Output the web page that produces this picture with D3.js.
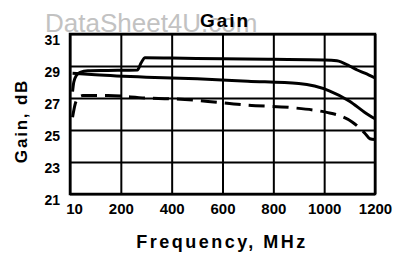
<!DOCTYPE html>
<html>
<head>
<meta charset="utf-8">
<script src="https://cdn.jsdelivr.net/npm/d3@7"></script>
<style>
  body { margin: 0; background: #fff; }
  svg { display: block; font-family: "Liberation Sans", Arial, sans-serif; }
</style>
</head>
<body>
<svg class="chart" width="393" height="255"></svg>
<script>
// ticks
const freqTicks = [0, 200, 400, 600, 800, 1000, 1200]
const freqLabels = ["10", "200", "400", "600", "800", "1000", "1200"]
const gainTicks = [21, 23, 25, 27, 29, 31]

// upper curve (with the step near 280 MHz)
const upperFreq = [10, 15, 25, 40, 70, 150, 265, 280, 295, 400, 600, 800, 1000, 1050, 1100, 1130, 1160, 1200]
const upperGain = [27.4, 28.0, 28.4, 28.6, 28.7, 28.72, 28.75, 29.2, 29.52, 29.5, 29.45, 29.42, 29.38, 29.33, 29.0, 28.75, 28.55, 28.25]

// middle curve
const midFreq = [10, 100, 300, 500, 700, 900, 1020, 1100, 1160, 1200]
const midGain = [28.55, 28.45, 28.3, 28.2, 28.05, 27.9, 27.45, 26.8, 26.1, 25.7]

// dashed curve
const dashFreq = [10, 20, 30, 50, 150, 300, 400, 500, 700, 870, 1010, 1060, 1110, 1160, 1180, 1200]
const dashGain = [25.8, 26.6, 27.0, 27.15, 27.15, 27.0, 26.95, 26.85, 26.55, 26.4, 26.1, 25.9, 25.5, 24.8, 24.45, 24.4]

const margin = {top: 34, right: 18, bottom: 61, left: 70}
const width = 393 - margin.left - margin.right
const height = 255 - margin.top - margin.bottom

const svg = d3.select('.chart')

// watermark
svg.append('text')
  .attr('x', 45).attr('y', 32)
  .attr('font-size', 26)
  .attr('fill', '#c2c2c2')
  .text('DataSheet4U.com')

svg.append('text')
  .attr('x', 225).attr('y', 27)
  .attr('text-anchor', 'middle')
  .attr('font-size', 19).attr('font-weight', 'bold')
  .attr('letter-spacing', 2)
  .text('Gain')

const g = svg.append('g').attr('transform', `translate(${margin.left},${margin.top})`)

const x = d3.scaleLinear().domain([0, 1200]).range([0, width])
const y = d3.scaleLinear().domain([21, 31]).range([height, 0])

// x grid + labels
const xAxis = g.append('g')
  .attr('transform', `translate(0,${height})`)
  .call(d3.axisBottom(x).tickValues(freqTicks).tickSize(-height)
    .tickFormat((d, i) => freqLabels[i]))
xAxis.select('.domain').remove()
xAxis.selectAll('line').attr('stroke', '#000').attr('stroke-width', 2)
xAxis.selectAll('text')
  .attr('y', 20).attr('dy', 0)
  .attr('font-size', 15).attr('font-weight', 'bold')
  .attr('font-family', '"Liberation Sans", Arial, sans-serif')
  .attr('fill', '#000')
  .attr('dx', (d, i) => i == 0 ? 4 : 0)

// y grid + labels
const yAxis = g.append('g')
  .call(d3.axisLeft(y).tickValues(gainTicks).tickSize(-width))
yAxis.select('.domain').remove()
yAxis.selectAll('line').attr('stroke', '#000').attr('stroke-width', 2)
yAxis.selectAll('text')
  .attr('x', -10).attr('dy', 10)
  .attr('font-size', 14).attr('font-weight', 'bold')
  .attr('font-family', '"Liberation Sans", Arial, sans-serif')
  .attr('fill', '#000')

// frame
g.append('rect')
  .attr('width', width).attr('height', height)
  .attr('fill', 'none').attr('stroke', '#000').attr('stroke-width', 2.5)

const line = d3.line()
  .x(d => x(d[0]))
  .y(d => y(d[1]))
  .curve(d3.curveMonotoneX)

const series = [
  {f: upperFreq, v: upperGain, dash: null},
  {f: midFreq, v: midGain, dash: null},
  {f: dashFreq, v: dashGain, dash: '16,8'}
]

g.selectAll('path.curve')
  .data(series)
  .join('path')
  .attr('class', 'curve')
  .attr('d', s => line(s.f.map((f, i) => [f, s.v[i]])))
  .attr('fill', 'none')
  .attr('stroke', '#000')
  .attr('stroke-width', 3)
  .attr('stroke-dasharray', s => s.dash)

// axis titles
svg.append('text')
  .attr('x', 222).attr('y', 248)
  .attr('text-anchor', 'middle')
  .attr('font-size', 18).attr('font-weight', 'bold')
  .attr('letter-spacing', 2.5)
  .text('Frequency, MHz')

svg.append('text')
  .attr('transform', 'translate(27,121) rotate(-90)')
  .attr('text-anchor', 'middle')
  .attr('font-size', 17).attr('font-weight', 'bold')
  .attr('letter-spacing', 1.8)
  .text('Gain, dB')
</script>
</body>
</html>
